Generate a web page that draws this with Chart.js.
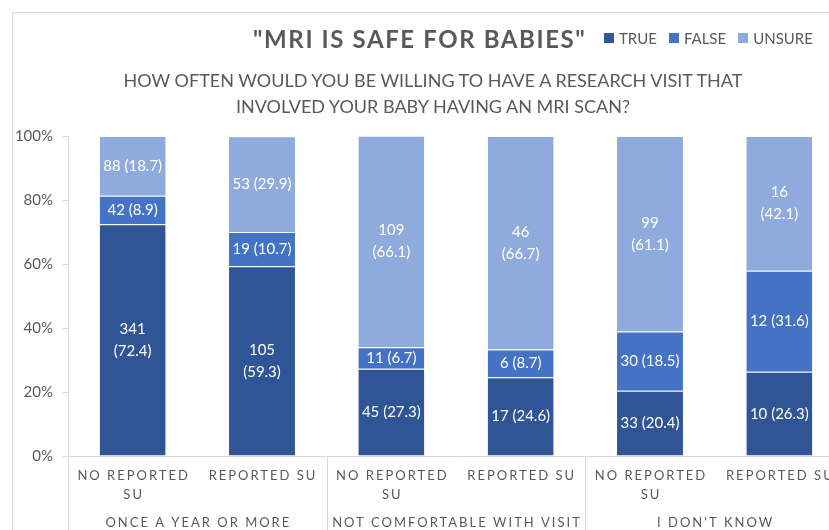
<!DOCTYPE html>
<html>
<head>
<meta charset="utf-8">
<script src="https://cdn.jsdelivr.net/npm/chart.js@4"></script>
<style>
html,body{margin:0;padding:0;background:#fff;width:829px;height:530px;overflow:hidden}
#frame{position:absolute;left:12px;top:12px;width:900px;height:600px;border-left:1px solid #d9d9d9;border-top:1px solid #d9d9d9}
#wrap{position:absolute;left:0;top:0;width:860px;height:530px}
.txt{position:absolute;font-family:Lato,"Open Sans",sans-serif;color:#595959;white-space:nowrap}
#title{left:253px;top:24px;font-size:24px;font-weight:bold;letter-spacing:1.6px}
#legend{left:604px;top:29px;font-size:15px;display:flex;gap:12px}
#legend span{display:flex;align-items:center}
#legend i{display:inline-block;width:10px;height:10px;margin-right:5px}
#sub{left:0;width:866px;top:67px;font-size:18px;line-height:26px;text-align:center}
</style>
</head>
<body>
<div id="frame"></div>
<div id="wrap"><canvas id="c" width="860" height="530"></canvas></div>
<div class="txt" id="title">"MRI IS SAFE FOR BABIES"</div>
<div class="txt" id="legend"></div>
<div class="txt" id="sub">HOW OFTEN WOULD YOU BE WILLING TO HAVE A RESEARCH VISIT THAT<br>INVOLVED YOUR BABY HAVING AN MRI SCAN?</div>
<script>
const categories=['NO REPORTED SU','REPORTED SU','NO REPORTED SU','REPORTED SU','NO REPORTED SU','REPORTED SU'];
const groups=['ONCE A YEAR OR MORE','NOT COMFORTABLE WITH VISIT',"I DON'T KNOW"];
const seriesNames=['TRUE','FALSE','UNSURE'];
const trueCounts=[341,105,45,17,33,10];
const falseCounts=[42,19,11,6,30,12];
const unsureCounts=[88,53,109,46,99,16];
const truePct=[72.4,59.3,27.3,24.6,20.4,26.3];
const falsePct=[8.9,10.7,6.7,8.7,18.5,31.6];
const unsurePct=[18.7,29.9,66.1,66.7,61.1,42.1];
const yTicks=[0,20,40,60,80,100];
const colors=['#2f5597','#4472c4','#8faadc'];

const FONT='Lato, "Open Sans", sans-serif';
const counts=[trueCounts,falseCounts,unsureCounts];
const pcts=[truePct,falsePct,unsurePct];

// legend built from the series
document.getElementById('legend').innerHTML=seriesNames.map((n,i)=>`<span><i style="background:${colors[i]}"></i>${n}</span>`).join('');

function wrapLines(ctx,text,maxW){
  const words=text.split(' ');const out=[];let cur='';
  words.forEach(w=>{const t=cur?cur+' '+w:w;if(cur&&ctx.measureText(t).width>maxW){out.push(cur);cur=w;}else cur=t;});
  if(cur)out.push(cur);return out;
}

const segLabels={id:'segLabels',afterDatasetsDraw(chart){
  const ctx=chart.ctx;
  ctx.save();
  ctx.fillStyle='#fff';ctx.font='15px '+FONT;ctx.textAlign='center';ctx.textBaseline='middle';
  chart.data.datasets.forEach((ds,di)=>{
    chart.getDatasetMeta(di).data.forEach((el,i)=>{
      const p=el.getProps(['x','y','base'],true);
      const cy=(p.y+p.base)/2;
      const v=pcts[di][i];
      const lines=v>40?[String(counts[di][i]),`(${v.toFixed(1)})`]:[`${counts[di][i]} (${v.toFixed(1)})`];
      lines.forEach((ln,j)=>ctx.fillText(ln,p.x,cy+(j-(lines.length-1)/2)*22));
    });
  });
  ctx.restore();
}};

const catAxis={id:'catAxis',afterDraw(chart){
  const {ctx,chartArea:a,scales:{x}}=chart;
  ctx.save();
  ctx.fillStyle='#595959';ctx.font='13px '+FONT;ctx.letterSpacing='2px';ctx.textAlign='center';ctx.textBaseline='middle';
  const step=x.getPixelForValue(1)-x.getPixelForValue(0);
  categories.forEach((c,i)=>{
    const px=x.getPixelForValue(i)+1;
    wrapLines(ctx,c,step-6).forEach((ln,j)=>ctx.fillText(ln,px,a.bottom+20+j*19));
  });
  groups.forEach((g,i)=>{
    const px=(x.getPixelForValue(2*i)+x.getPixelForValue(2*i+1))/2+1;
    ctx.fillText(g,px,a.bottom+67);
  });
  ctx.strokeStyle='#d9d9d9';ctx.lineWidth=1;
  for(let i=0;i<=groups.length;i++){
    let px=i===0?a.left:(i===groups.length?a.right:(x.getPixelForValue(2*i-1)+x.getPixelForValue(2*i))/2);
    px=Math.round(px)+0.5;
    ctx.beginPath();ctx.moveTo(px,a.bottom);ctx.lineTo(px,chart.height);ctx.stroke();
  }
  ctx.restore();
}};

new Chart(document.getElementById('c'),{
  type:'bar',
  data:{labels:categories,datasets:seriesNames.map((n,i)=>({label:n,data:pcts[i],backgroundColor:colors[i],borderColor:'rgba(255,255,255,0.25)',borderWidth:{top:1},borderSkipped:false,barPercentage:0.51,categoryPercentage:1}))},
  options:{
    responsive:false,animation:false,
    layout:{padding:{left:8,right:16,top:136,bottom:66}},
    plugins:{legend:{display:false},title:{display:false},tooltip:{enabled:false}},
    scales:{
      x:{stacked:true,ticks:{display:false},grid:{display:false},border:{color:'#d9d9d9',width:1}},
      y:{stacked:true,min:0,max:100,
        afterFit(s){s.width=60;},
        afterBuildTicks(s){s.ticks=yTicks.map(v=>({value:v}));},
        ticks:{callback:v=>v+'%',color:'#595959',font:{family:FONT,size:15},padding:10},
        grid:{drawOnChartArea:false,tickLength:5,color:'#d9d9d9'},
        border:{color:'#d9d9d9',width:1}}
    }
  },
  plugins:[segLabels,catAxis]
});
</script>
</body>
</html>
